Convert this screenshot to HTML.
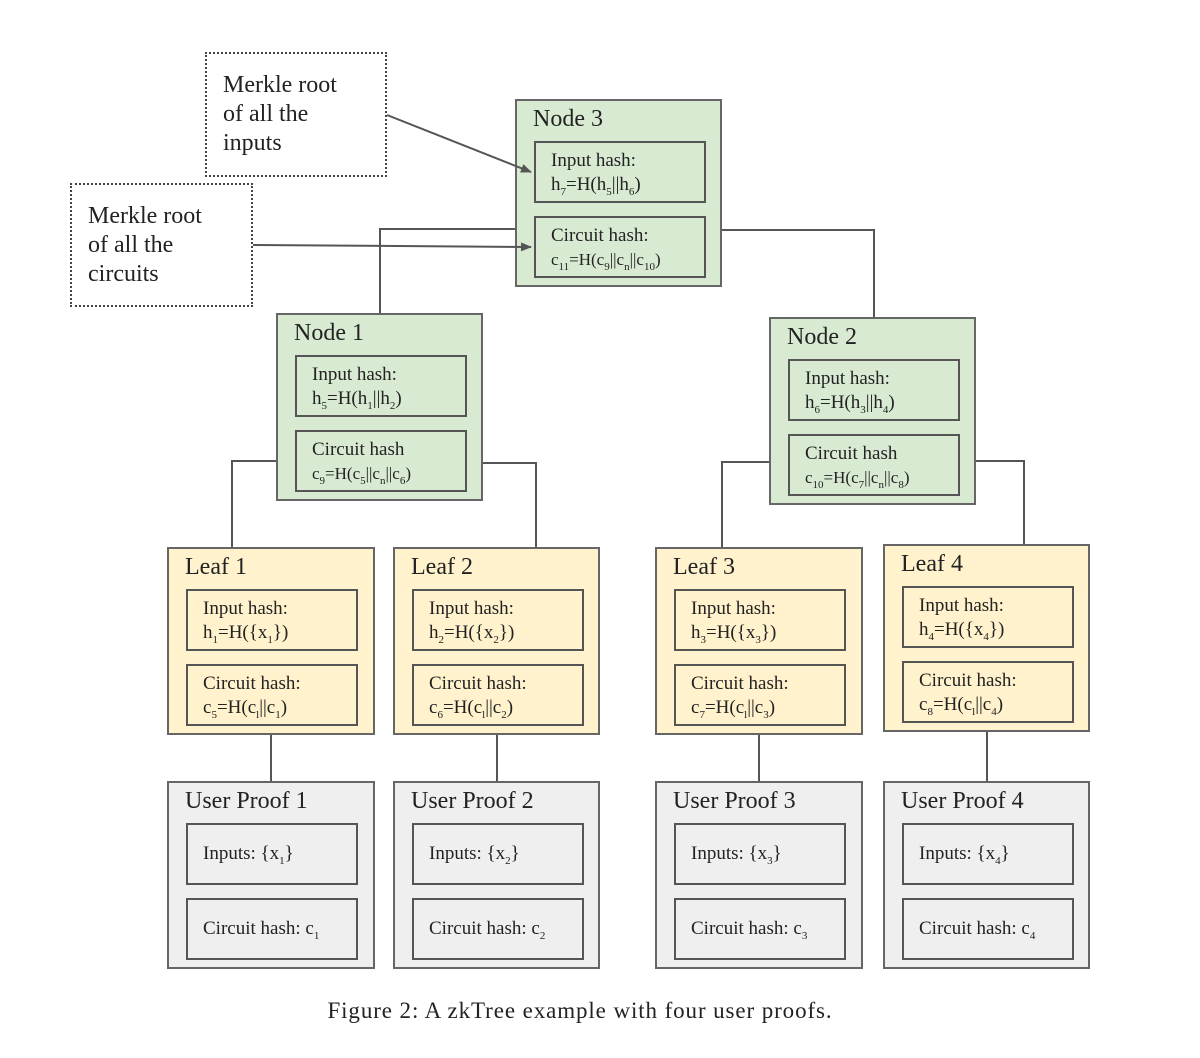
<!DOCTYPE html>
<html><head><meta charset="utf-8"><style>
body{margin:0;width:1200px;height:1058px;background:#fff;position:relative;overflow:hidden;font-family:"Liberation Serif",serif;color:#222}
.b{position:absolute;box-sizing:border-box;border:2px solid #666}
.g{background:#d9ead3}.y{background:#fff2cc}.e{background:#efefef}
.t{position:absolute;left:16px;top:5px;font-size:24px;white-space:nowrap}
.i{position:absolute;left:17px;width:172px;height:62px;box-sizing:border-box;border:2px solid #555;font-size:19px;line-height:24px;padding:6px 0 0 15px;white-space:nowrap}
.s{font-size:11px;vertical-align:-5px}
.c{padding-top:17px}
.d{position:absolute;box-sizing:border-box;border:2px dotted #444;font-size:24px;line-height:29px;padding:17px 0 0 16px;background:#fff}
</style></head><body>
<svg width="1200" height="1058" style="position:absolute;left:0;top:0">
<g stroke="#555" stroke-width="2" fill="none">
<path d="M515,229H380V313"/><path d="M722,230H874V317"/>
<path d="M276,461H232V547"/><path d="M483,463H536V547"/>
<path d="M769,462H722V547"/><path d="M976,461H1024V544"/>
<path d="M271,735V781"/><path d="M497,735V781"/><path d="M759,735V781"/><path d="M987,732V781"/>
</g></svg>

<div class="d" style="left:205px;top:52px;width:182px;height:125px">Merkle root<br>of all the<br>inputs</div>
<div class="d" style="left:70px;top:183px;width:183px;height:124px">Merkle root<br>of all the<br>circuits</div>

<div class="b g" style="left:515px;top:99px;width:207px;height:188px"><div class="t">Node 3</div>
<div class="i" style="top:40px">Input hash:<br>h<span class="s">7</span>=H(h<span class="s">5</span>||h<span class="s">6</span>)</div>
<div class="i" style="top:115px">Circuit hash:<br><span style="font-size:17px">c<span class="s">11</span>=H(c<span class="s">9</span>||c<span class="s">n</span>||c<span class="s">10</span>)</span></div></div>

<div class="b g" style="left:276px;top:313px;width:207px;height:188px"><div class="t">Node 1</div>
<div class="i" style="top:40px">Input hash:<br>h<span class="s">5</span>=H(h<span class="s">1</span>||h<span class="s">2</span>)</div>
<div class="i" style="top:115px">Circuit hash<br><span style="font-size:17px">c<span class="s">9</span>=H(c<span class="s">5</span>||c<span class="s">n</span>||c<span class="s">6</span>)</span></div></div>

<div class="b g" style="left:769px;top:317px;width:207px;height:188px"><div class="t">Node 2</div>
<div class="i" style="top:40px">Input hash:<br>h<span class="s">6</span>=H(h<span class="s">3</span>||h<span class="s">4</span>)</div>
<div class="i" style="top:115px">Circuit hash<br><span style="font-size:17px">c<span class="s">10</span>=H(c<span class="s">7</span>||c<span class="s">n</span>||c<span class="s">8</span>)</span></div></div>

<div class="b y" style="left:167px;top:547px;width:208px;height:188px"><div class="t">Leaf 1</div>
<div class="i" style="top:40px">Input hash:<br>h<span class="s">1</span>=H({x<span class="s">1</span>})</div>
<div class="i" style="top:115px">Circuit hash:<br>c<span class="s">5</span>=H(c<span class="s">l</span>||c<span class="s">1</span>)</div></div>
<div class="b y" style="left:393px;top:547px;width:207px;height:188px"><div class="t">Leaf 2</div>
<div class="i" style="top:40px">Input hash:<br>h<span class="s">2</span>=H({x<span class="s">2</span>})</div>
<div class="i" style="top:115px">Circuit hash:<br>c<span class="s">6</span>=H(c<span class="s">l</span>||c<span class="s">2</span>)</div></div>
<div class="b y" style="left:655px;top:547px;width:208px;height:188px"><div class="t">Leaf 3</div>
<div class="i" style="top:40px">Input hash:<br>h<span class="s">3</span>=H({x<span class="s">3</span>})</div>
<div class="i" style="top:115px">Circuit hash:<br>c<span class="s">7</span>=H(c<span class="s">l</span>||c<span class="s">3</span>)</div></div>
<div class="b y" style="left:883px;top:544px;width:207px;height:188px"><div class="t">Leaf 4</div>
<div class="i" style="top:40px">Input hash:<br>h<span class="s">4</span>=H({x<span class="s">4</span>})</div>
<div class="i" style="top:115px">Circuit hash:<br>c<span class="s">8</span>=H(c<span class="s">l</span>||c<span class="s">4</span>)</div></div>

<div class="b e" style="left:167px;top:781px;width:208px;height:188px"><div class="t">User Proof 1</div>
<div class="i c" style="top:40px">Inputs: {x<span class="s">1</span>}</div>
<div class="i c" style="top:115px">Circuit hash: c<span class="s">1</span></div></div>
<div class="b e" style="left:393px;top:781px;width:207px;height:188px"><div class="t">User Proof 2</div>
<div class="i c" style="top:40px">Inputs: {x<span class="s">2</span>}</div>
<div class="i c" style="top:115px">Circuit hash: c<span class="s">2</span></div></div>
<div class="b e" style="left:655px;top:781px;width:208px;height:188px"><div class="t">User Proof 3</div>
<div class="i c" style="top:40px">Inputs: {x<span class="s">3</span>}</div>
<div class="i c" style="top:115px">Circuit hash: c<span class="s">3</span></div></div>
<div class="b e" style="left:883px;top:781px;width:207px;height:188px"><div class="t">User Proof 4</div>
<div class="i c" style="top:40px">Inputs: {x<span class="s">4</span>}</div>
<div class="i c" style="top:115px">Circuit hash: c<span class="s">4</span></div></div>

<svg width="1200" height="1058" style="position:absolute;left:0;top:0">
<defs><marker id="a" markerWidth="11" markerHeight="9" refX="10" refY="4.5" orient="auto" markerUnits="userSpaceOnUse"><path d="M0,0L11,4.5L0,9z" fill="#555"/></marker></defs>
<g stroke="#555" stroke-width="2" fill="none">
<path d="M387,115L531,172" marker-end="url(#a)"/><path d="M253,245L531,247" marker-end="url(#a)"/>
</g></svg>

<div style="position:absolute;left:0;width:1160px;top:998px;text-align:center;font-size:23px;letter-spacing:0.9px">Figure 2: A zkTree example with four user proofs.</div>
</body></html>
